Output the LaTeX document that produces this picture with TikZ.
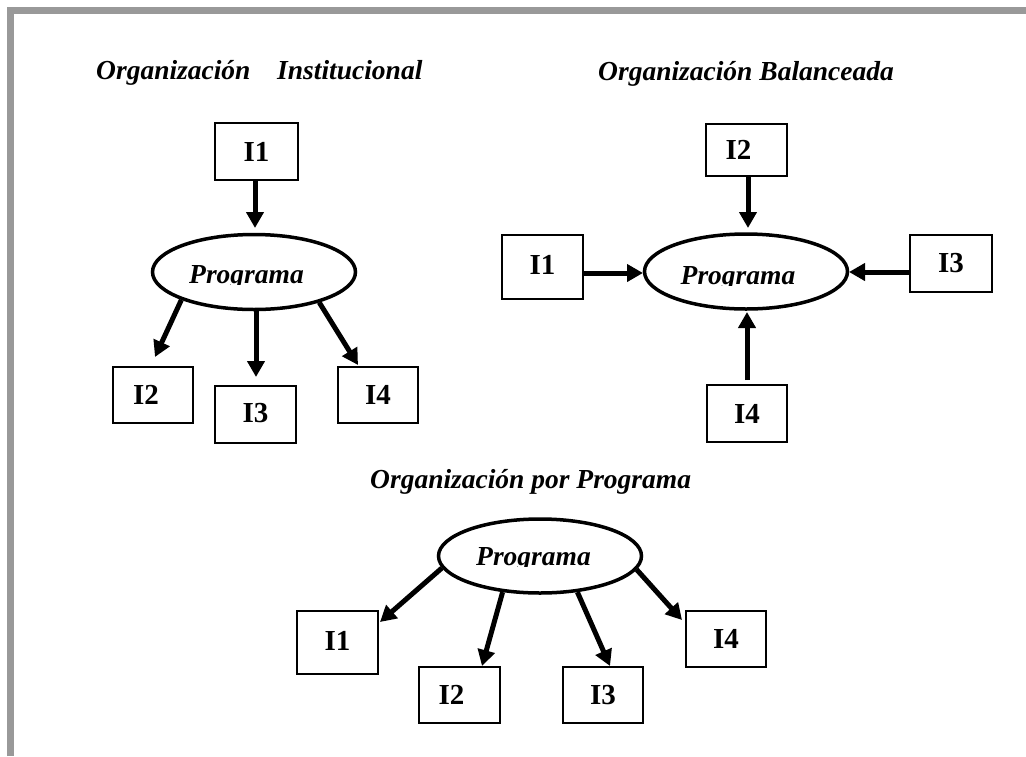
\documentclass[tikz,border=0pt]{standalone}
\usepackage{fontspec}
\setmainfont{Liberation Serif}
\usetikzlibrary{arrows.meta,shapes.geometric}
\begin{document}
\begin{tikzpicture}[x=1pt,y=-1pt,
  frame/.style={draw=black!40,line width=7pt},
  box/.style={draw,line width=1.8pt,rectangle,inner sep=0pt,
    font=\fontsize{29}{30}\selectfont\bfseries},
  prog/.style={draw,line width=3.5pt,ellipse,inner sep=0pt,
    minimum width=203pt,minimum height=75pt},
  progtext/.style={anchor=base,inner sep=0pt,
    font=\fontsize{27.5}{30}\selectfont\bfseries\itshape},
  title/.style={anchor=base west,inner sep=0pt,
    font=\fontsize{27.5}{30}\selectfont\bfseries\itshape},
  arr/.style={line width=5pt,-{Triangle[length=16pt,width=17pt]}}]
% page and grey frame
\fill[white] (0,0) rectangle (1026,756);
\useasboundingbox (0,0) rectangle (1026,756);
\draw[frame] (10.5,756) -- (10.5,10.5) -- (1026,10.5);

% ---------- Organización Institucional ----------
\node[title] (t1a) at (96,79) {Organización};
\node[title] (t1b) at (277,79) {Institucional};
\node[box,minimum width=83pt,minimum height=57pt] (lI1) at (256.5,151.5) {I1};
\node[prog] (lP) at (254,272) {};
\begin{scope}
  \clip (150,230) rectangle (360,284.5);
  \node[progtext] (lPt) at (246.5,283) {Programa};
\end{scope}
\node[box,minimum width=80pt,minimum height=56pt] (lI2) at (153,395) {I2\hspace*{14pt}};
\node[box,minimum width=81pt,minimum height=57pt] (lI3) at (255.5,414.5) {\raisebox{4pt}{I3}};
\node[box,minimum width=80pt,minimum height=56pt] (lI4) at (378,395) {I4};
\coordinate (la1) at (255,228);
\coordinate (la2) at (155,357);
\coordinate (la3) at (256,377);
\coordinate (la4) at (358,365);
\draw[arr] (lI1.south -| la1) -- (la1);
\draw[arr] (lP.201) -- (la2);
\draw[arr] (lP.south -| la3) -- (la3);
\draw[arr] (lP.335) -- (la4);

% ---------- Organización Balanceada ----------
\node[title] (t2) at (598,80) {Organización Balanceada};
\node[box,minimum width=81pt,minimum height=52pt] (rI2) at (746.5,150) {I2\hspace*{16pt}};
\node[prog] (rP) at (746,271.5) {};
\begin{scope}
  \clip (640,230) rectangle (850,285.5);
  \node[progtext] (rPt) at (738,284) {Programa};
\end{scope}
\node[box,minimum width=81pt,minimum height=64pt] (rI1) at (542.5,267) {\raisebox{4pt}{I1}};
\node[box,minimum width=82pt,minimum height=57pt] (rI3) at (951,263.5) {I3};
\node[box,minimum width=80pt,minimum height=57pt] (rI4) at (747,413.5) {I4};
\coordinate (rs1) at (584,273);
\coordinate (ra1) at (643,273);
\coordinate (rs3) at (910,272);
\coordinate (ra3) at (849,272);
\coordinate (ra2) at (748,228);
\coordinate (rs4) at (747,380);
\coordinate (ra4) at (747,312);
\draw[arr] (rI2.south -| ra2) -- (ra2);
\draw[arr] (rs1) -- (ra1);
\draw[arr] (rs3) -- (ra3);
\draw[arr] (rs4) -- (ra4);

% ---------- Organización por Programa ----------
\node[title] (t3) at (370,488) {Organización por Programa};
\node[prog,minimum height=74pt] (bP) at (540,556) {};
\begin{scope}
  \clip (435,515) rectangle (645,566.5);
  \node[progtext] (bPt) at (533.5,565) {Programa};
\end{scope}
\node[box,minimum width=81pt,minimum height=63pt] (bI1) at (337.5,642.5) {\raisebox{4pt}{I1}};
\node[box,minimum width=81pt,minimum height=56pt] (bI2) at (459.5,695) {I2\hspace*{16pt}};
\node[box,minimum width=80pt,minimum height=56pt] (bI3) at (603,695) {I3};
\node[box,minimum width=80pt,minimum height=56pt] (bI4) at (726,639) {I4};
\coordinate (ba1) at (380,622);
\coordinate (ba2) at (482,666);
\coordinate (ba3) at (610,666);
\coordinate (ba4) at (682,620);
\draw[arr] (bP.187) -- (ba1);
\draw[arr] (bP.224) -- (ba2);
\draw[arr] (bP.316) -- (ba3);
\draw[arr] (bP.352) -- (ba4);
\end{tikzpicture}
\end{document}
